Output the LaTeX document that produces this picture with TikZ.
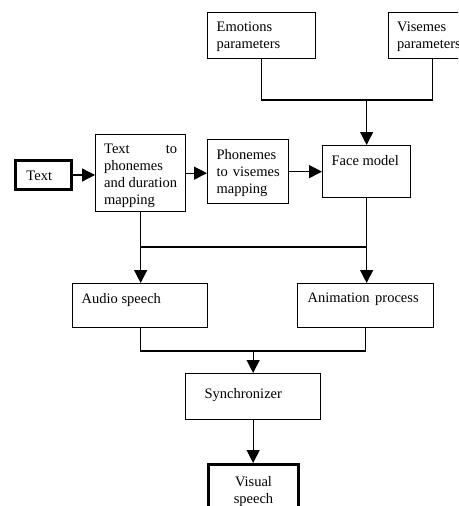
\documentclass[tikz,border=0pt]{standalone}
\usepackage{fontspec}
\setmainfont{Liberation Serif}
\usetikzlibrary{arrows.meta,positioning}
\newcommand{\blktext}[3]{\parbox[c][#2][t]{#1}{#3}}

\begin{document}
\begin{tikzpicture}[x=1pt, y=-1pt, >={Triangle[length=13pt,width=13pt]},
        font=\fontsize{14.5}{17}\selectfont,
        blk/.style={draw, line width=1.3pt, anchor=north west, inner xsep=9pt, inner ysep=9.5pt},
        thickblk/.style={blk, line width=3pt},
        wire/.style={line width=1.3pt}]
    \useasboundingbox (0,0) rectangle (458,506);
    \clip (0,0) rectangle (458,506);

    % parameters on top
    \node[blk] (emo) at (207,12) {\blktext{90pt}{27pt}{Emotions\\parameters}};
    \node[blk, inner xsep=8.5pt] (vis) at (388,12) {\blktext{70pt}{27pt}{Visemes\\parameters}};

    % main chain
    \node[thickblk, inner xsep=11pt, inner ysep=10.5pt] (txt) at (14,159) {\blktext{34pt}{8pt}{Text}};
    \node[blk, inner xsep=8.5pt] (ttp) at (95,134) {\blktext{73pt}{58pt}{Text \hfill to\\phonemes\\and duration\\mapping}};
    \node[blk] (ph) at (207,139) {\blktext{63pt}{45pt}{Phonemes\\to\hfill visemes\\mapping}};
    \node[blk] (face) at (322,145) {\blktext{70pt}{33pt}{Face model}};

    % outputs
    \node[blk] (audio) at (72,283) {\blktext{117pt}{25pt}{Audio speech}};
    \node[blk, inner xsep=10pt] (anim) at (297,283) {\blktext{116pt}{25pt}{Animation\hspace{5.5pt}process}};
    \node[blk, inner xsep=19pt, inner ysep=14.5pt] (sync) at (185,373) {\blktext{97pt}{17pt}{Synchronizer}};
    \node[thickblk, inner ysep=11.5pt] (vsp) at (207,463) {\blktext{72pt}{40pt}{\centering Visual\\speech}};

    \coordinate (ptop) at (0,100);
    \coordinate (pmid) at (0,247);
    \coordinate (plow) at (0,351);

    \draw[wire] (emo.south) -- (emo.south |- ptop) -- (vis.south |- ptop) -- (vis.south);
    \draw[wire,->] (face.north |- ptop) -- (face.north);

    \draw[wire,->] (txt.east) -- (txt.east -| ttp.west);
    \draw[wire,->] (ttp.east) -- (ttp.east -| ph.west);
    \draw[wire,->] (ph.east) -- (ph.east -| face.west);

    \draw[wire,->] (ttp.south) -- (ttp.south |- audio.north);
    \draw[wire,->] (face.south) -- (face.south |- anim.north);
    \draw[wire] (ttp.south |- pmid) -- (face.south |- pmid);

    \draw[wire] (audio.south) -- (audio.south |- plow) -- (anim.south |- plow) -- (anim.south);
    \draw[wire,->] (sync.north |- plow) -- (sync.north);
    \draw[wire,->] (sync.south) -- (sync.south |- vsp.north);
\end{tikzpicture}
\end{document}
